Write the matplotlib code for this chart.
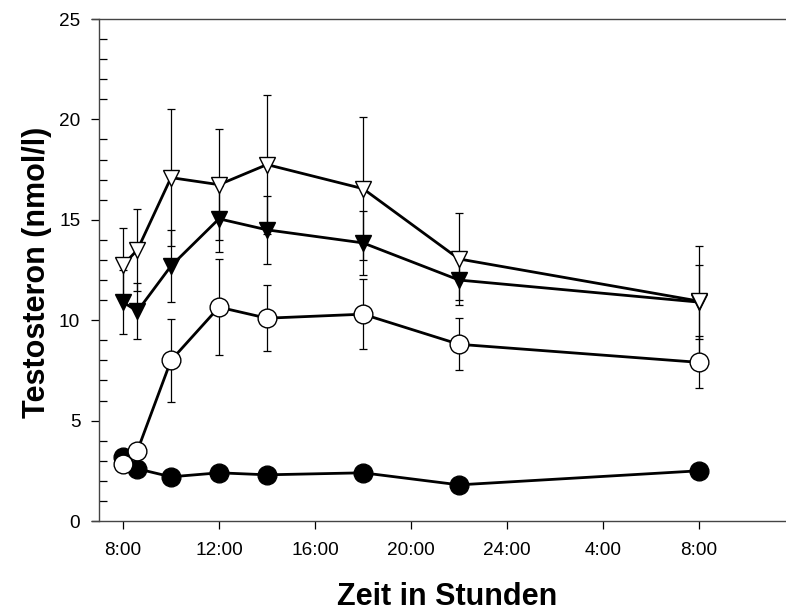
import matplotlib
matplotlib.use("Agg")
import matplotlib.pyplot as plt
from matplotlib.ticker import MultipleLocator

plt.rcParams['font.family'] = ['Liberation Sans', 'DejaVu Sans']

hours = [8, 8.6, 10, 12, 14, 18, 22, 32]
tick_pos = [8, 12, 16, 20, 24, 28, 32]
tick_labels = ['8:00', '12:00', '16:00', '20:00', '24:00', '4:00', '8:00']

filled_circle = [3.2, 2.6, 2.2, 2.4, 2.3, 2.4, 1.8, 2.5]
open_circle = [2.85, 3.5, 8.0, 10.65, 10.1, 10.3, 8.8, 7.9]
open_circle_err = [0, 0, 2.05, 2.4, 1.65, 1.75, 1.3, 1.3]
filled_tri = [10.9, 10.45, 12.7, 15.05, 14.5, 13.85, 12.0, 10.9]
filled_tri_err = [1.6, 1.4, 1.8, 1.65, 1.7, 1.6, 1.0, 1.85]
open_tri = [12.75, 13.5, 17.1, 16.75, 17.75, 16.55, 13.05, 10.95]
open_tri_err = [1.85, 2.05, 3.4, 2.75, 3.45, 3.55, 2.3, 2.75]

W, H = 786, 607
fig = plt.figure(figsize=(W / 100, H / 100), dpi=100)
left_px, right_px, top_px, bottom_px = 92, 786, 19, 521
ax = fig.add_axes([left_px / W, (H - bottom_px) / H,
                   (right_px - left_px) / W, (bottom_px - top_px) / H])

px_per_h = 24.0
x0 = 8 - (123 - left_px) / px_per_h
x1 = 8 + (right_px - 123) / px_per_h
ax.set_xlim(x0, x1)
ax.set_ylim(0, 25)

lw = 2.0
ebkw = dict(fmt='none', ecolor='black', elinewidth=0.9, capsize=3.2, capthick=0.9, zorder=1)

ax.errorbar(hours, open_circle, yerr=open_circle_err, **ebkw)
ax.errorbar(hours, filled_tri, yerr=filled_tri_err, **ebkw)
ax.errorbar(hours, open_tri, yerr=open_tri_err, **ebkw)

ax.plot(hours, filled_circle, '-', color='black', lw=lw, zorder=2)
ax.plot(hours, filled_circle, 'o', ms=13.5, mfc='black', mec='black', mew=1, zorder=3)
ax.plot(hours, open_circle, '-', color='black', lw=lw, zorder=2)
ax.plot(hours, open_circle, 'o', ms=13.5, mfc='white', mec='black', mew=1, zorder=4)
ax.plot(hours, filled_tri, '-', color='black', lw=lw, zorder=2)
ax.plot(hours, filled_tri, 'v', ms=12, mfc='black', mec='black', mew=1, zorder=5)
ax.plot(hours, open_tri, '-', color='black', lw=lw, zorder=2)
ax.plot(hours, open_tri, 'v', ms=12, mfc='white', mec='black', mew=1, zorder=6)

ax.spines['right'].set_visible(False)
ax.spines['left'].set_position(('data', 7))
for s in ['left', 'bottom', 'top']:
    ax.spines[s].set_linewidth(1.0)
    ax.spines[s].set_color('#444444')

ax.set_xticks(tick_pos)
ax.set_xticklabels(tick_labels)
ax.yaxis.set_major_locator(MultipleLocator(5))
ax.yaxis.set_minor_locator(MultipleLocator(1))
ax.tick_params(axis='y', which='major', direction='out', length=6, width=0.9, labelsize=13.7, pad=7.5)
ax.tick_params(axis='y', which='minor', direction='in', length=6, width=0.9)
ax.tick_params(axis='x', which='major', direction='out', length=6, width=0.9, labelsize=13.7, pad=9)
ax.tick_params(top=False)

fig.text(45 / W, 1 - 272 / H, 'Testosteron (nmol/l)', rotation=90, fontsize=22,
         fontweight='bold', ha='center', va='baseline', rotation_mode='anchor')
fig.text(447 / W, 1 - 605 / H, 'Zeit in Stunden', fontsize=22,
         fontweight='bold', ha='center', va='baseline')

fig.savefig('out.png', dpi=100)
